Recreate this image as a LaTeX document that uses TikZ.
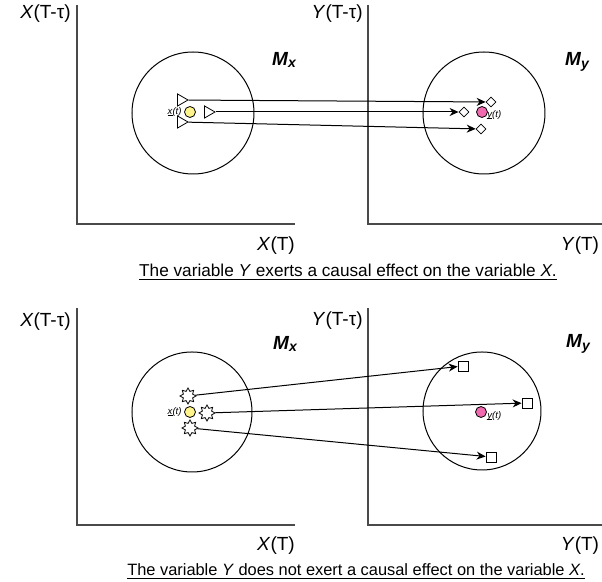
\documentclass[tikz,border=0pt]{standalone}
\usepackage{fontspec}
\setmainfont{Liberation Sans}
\usetikzlibrary{arrows.meta,shapes.geometric}
\definecolor{Ink}{HTML}{000000}
\definecolor{Axis}{HTML}{4A4A4A}
\definecolor{Sun}{HTML}{FFF38C}
\definecolor{Rose}{HTML}{F06AB0}
\tikzset{
  axis/.style={draw=Axis,line width=0.75pt},
  manifold/.style={draw=Ink,line width=0.5pt},
  axlabel/.style={font=\fontsize{9.5}{11}\selectfont,inner sep=0pt},
  caption/.style={font=\fontsize{8.6}{10}\selectfont,inner sep=0pt},
  mlabel/.style={font=\fontsize{9.5}{11}\selectfont\bfseries\itshape,inner sep=0pt},
  tlabel/.style={font=\fontsize{4.8}{5}\selectfont\itshape,inner sep=0pt},
  state/.style={circle,draw=Ink,line width=0.4pt,minimum size=5.5pt,inner sep=0pt},
  ptri/.style={regular polygon,regular polygon sides=3,shape border rotate=-90,draw=Ink,line width=0.4pt,minimum size=7pt,inner sep=0pt},
  pdiam/.style={diamond,draw=Ink,line width=0.4pt,minimum size=5pt,inner sep=0pt},
  pstar/.style={star,star points=8,star point ratio=1.6,draw=Ink,line width=0.4pt,minimum size=8pt,inner sep=0pt},
  psq/.style={rectangle,draw=Ink,line width=0.4pt,minimum size=5pt,inner sep=0pt},
  arrow/.style={-{Stealth[length=4.5pt,width=4pt]},line width=0.5pt,draw=Ink}
}
\newcommand{\mfold}[1]{\textbf{\textit{M}}\raisebox{-0.25ex}{\fontsize{7}{8}\selectfont\textbf{\textit{#1}}}}
\newcommand{\tvar}[1]{\setbox0=\hbox{#1}\rlap{\rule[-0.3ex]{\wd0}{0.25pt}}\box0(t)}

\begin{document}
\begin{tikzpicture}[x=0.5pt,y=-0.5pt]
  \useasboundingbox (0,0) rectangle (602,582);
  % upper panel: Y drives X
  \draw[axis] (77,5) -- (77,224) -- (295,224);
  \draw[axis] (368,5) -- (368,224) -- (602,224);
  \node[axlabel,anchor=east] (xlagA) at (71,14) {\textit{X}(T-τ)};
  \node[axlabel,anchor=east] (ylagA) at (363,14) {\textit{Y}(T-τ)};
  \node[axlabel] (xnowA) at (276,246) {\textit{X}(T)};
  \node[axlabel] (ynowA) at (580,246) {\textit{Y}(T)};
  \node[mlabel] (mxA) at (284,60) {\mfold{x}};
  \node[mlabel] (myA) at (577,62) {\mfold{y}};
  \draw[manifold] (193,113) circle[radius=61];
  \draw[manifold] (484,113) circle[radius=61];
  \node[state,fill=Sun] (xtA) at (190,112) {};
  \node[tlabel,anchor=east] at (182,112) {\tvar{x}};
  \node[state,fill=Rose] (ytA) at (482,112) {};
  \node[tlabel,anchor=west] at (487,115) {\tvar{y}};
  \node[ptri] (triA) at (181,100) {};
  \node[ptri] (triB) at (208,112) {};
  \node[ptri] (triC) at (181,122) {};
  \node[pdiam] (dmA) at (491,102) {};
  \node[pdiam] (dmB) at (464,112) {};
  \node[pdiam] (dmC) at (481,129) {};
  \draw[arrow] (triA) -- (dmA);
  \draw[arrow] (triB) -- (dmB);
  \draw[arrow] (triC) -- (dmC);
  \node[caption] (capA) at (348,272) {\underline{The variable \textit{Y} exerts a causal effect on the variable \textit{X}.}};
  % lower panel: Y does not drive X
  \draw[axis] (77,308) -- (77,525) -- (295,525);
  \draw[axis] (368,308) -- (368,525) -- (602,525);
  \node[axlabel,anchor=east] (xlagB) at (71,322) {\textit{X}(T-τ)};
  \node[axlabel,anchor=east] (ylagB) at (363,321) {\textit{Y}(T-τ)};
  \node[axlabel] (xnowB) at (276,546) {\textit{X}(T)};
  \node[axlabel] (ynowB) at (580,546) {\textit{Y}(T)};
  \node[mlabel] (mxB) at (285,344) {\mfold{x}};
  \node[mlabel] (myB) at (578,344) {\mfold{y}};
  \draw[manifold] (192,412) circle[radius=60];
  \draw[manifold] (482,411) circle[radius=59];
  \node[state,fill=Sun] (xtB) at (190,412) {};
  \node[tlabel,anchor=east] at (182,412) {\tvar{x}};
  \node[state,fill=Rose] (ytB) at (481,412) {};
  \node[tlabel,anchor=west] at (487,416) {\tvar{y}};
  \node[pstar] (stA) at (188,396) {};
  \node[pstar] (stB) at (207,413) {};
  \node[pstar] (stC) at (190,428) {};
  \node[psq] (sqA) at (463,366) {};
  \node[psq] (sqB) at (527,403) {};
  \node[psq] (sqC) at (491,457) {};
  \draw[arrow] (stA) -- (sqA);
  \draw[arrow] (stB) -- (sqB);
  \draw[arrow] (stC) -- (sqC);
  \node[caption,font=\fontsize{8.2}{10}\selectfont] (capB) at (356,572) {\underline{The variable \textit{Y} does not exert a causal effect on the variable \textit{X}.}};
\end{tikzpicture}
\end{document}
